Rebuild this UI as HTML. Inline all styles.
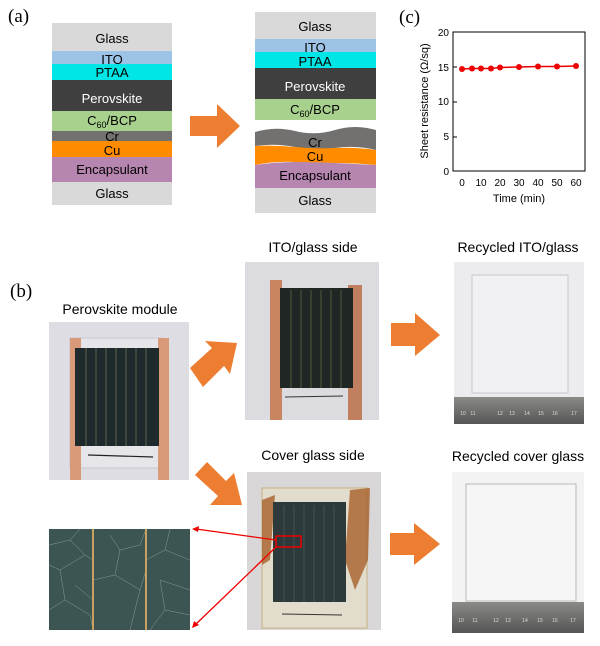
<!DOCTYPE html>
<html><head><style>
body{margin:0;width:600px;height:641px;background:#fff;font-family:"Liberation Sans",sans-serif;overflow:hidden}
</style></head><body>
<svg width="600" height="641" viewBox="0 0 600 641" xmlns="http://www.w3.org/2000/svg" font-family="Liberation Sans, sans-serif">
<defs>
<linearGradient id="rul" x1="0" y1="0" x2="0" y2="1"><stop offset="0" stop-color="#8a8a88"/><stop offset="1" stop-color="#555"/></linearGradient>
</defs>
<text x="8" y="22" font-family="Liberation Serif, serif" font-size="19">(a)</text>
<!-- left stack -->
<g font-size="13" text-anchor="middle">
<rect x="52" y="23" width="120" height="28" fill="#d9d9d9"/><text x="112" y="43">Glass</text>
<rect x="52" y="51" width="120" height="13" fill="#9dc3e6"/><text x="112" y="64">ITO</text>
<rect x="52" y="64" width="120" height="16" fill="#00e5e5"/><text x="112" y="77">PTAA</text>
<rect x="52" y="80" width="120" height="31" fill="#3f3f3f"/><text x="112" y="103" fill="#fff">Perovskite</text>
<rect x="52" y="111" width="120" height="20" fill="#a9d18e"/><text x="112" y="125">C<tspan font-size="9" dy="3">60</tspan><tspan dy="-3">/BCP</tspan></text>
<rect x="52" y="131" width="120" height="10" fill="#737070"/><text x="112" y="141">Cr</text>
<rect x="52" y="141" width="120" height="16" fill="#ff8c00"/><text x="112" y="155">Cu</text>
<rect x="52" y="157" width="120" height="25" fill="#b686b0"/><text x="112" y="174">Encapsulant</text>
<rect x="52" y="182" width="120" height="23" fill="#d9d9d9"/><text x="112" y="198">Glass</text>
</g>
<polygon points="190,116 217,116 217,104 240,126 217,148 217,136 190,136" fill="#ed7d31"/>
<!-- right stack -->
<g font-size="13" text-anchor="middle">
<rect x="255" y="12" width="121" height="27" fill="#d9d9d9"/><text x="315" y="31">Glass</text>
<rect x="255" y="39" width="121" height="13" fill="#9dc3e6"/><text x="315" y="52">ITO</text>
<rect x="255" y="52" width="121" height="16" fill="#00e5e5"/><text x="315" y="66">PTAA</text>
<rect x="255" y="68" width="121" height="31" fill="#3f3f3f"/><text x="315" y="91" fill="#fff">Perovskite</text>
<rect x="255" y="99" width="121" height="21" fill="#a9d18e"/><text x="315" y="114">C<tspan font-size="9" dy="3">60</tspan><tspan dy="-3">/BCP</tspan></text>
<path d="M255,132 Q275,126 295,131 T335,130 T376,130 L376,150 Q355,145 335,148 T295,147 T255,146 Z" fill="#737070"/>
<path d="M255,146 Q275,145 295,147 T335,148 T376,150 L376,165 Q355,163 335,163 T295,162 T255,165 Z" fill="#ff8c00"/>
<path d="M255,165 Q275,162 295,162 T335,163 T376,165 L376,188 L255,188 Z" fill="#b686b0"/>
<text x="315" y="147">Cr</text><text x="315" y="161">Cu</text><text x="315" y="180">Encapsulant</text>
<rect x="255" y="188" width="121" height="25" fill="#d9d9d9"/><text x="315" y="205">Glass</text>
</g>
<!-- (c) plot -->
<text x="399" y="23" font-family="Liberation Serif, serif" font-size="19">(c)</text>
<rect x="453" y="32" width="132" height="139" fill="none" stroke="#000" stroke-width="1"/>
<g font-size="10" text-anchor="end">
<text x="449" y="36">20</text><text x="449" y="71">15</text><text x="449" y="105">10</text><text x="449" y="140">5</text><text x="449" y="175">0</text>
</g>
<g stroke="#000"><line x1="453" y1="67" x2="457" y2="67"/><line x1="453" y1="102" x2="457" y2="102"/><line x1="453" y1="137" x2="457" y2="137"/></g>
<g font-size="10" text-anchor="middle">
<text x="462" y="186">0</text><text x="481" y="186">10</text><text x="500" y="186">20</text><text x="519" y="186">30</text><text x="538" y="186">40</text><text x="557" y="186">50</text><text x="576" y="186">60</text>
</g>
<text x="519" y="202" font-size="11" text-anchor="middle">Time (min)</text>
<text transform="translate(428,101) rotate(-90)" font-size="11" text-anchor="middle">Sheet resistance (Ω/sq)</text>
<polyline points="462,69 472,68.5 481,68.5 491,68.5 500,67.5 519,67 538,66.5 557,66.5 576,66" fill="none" stroke="#e00" stroke-width="1.5"/>
<g fill="#e00"><circle cx="462" cy="69" r="3"/><circle cx="472" cy="68.5" r="3"/><circle cx="481" cy="68.5" r="3"/><circle cx="491" cy="68.5" r="3"/><circle cx="500" cy="67.5" r="3"/><circle cx="519" cy="67" r="3"/><circle cx="538" cy="66.5" r="3"/><circle cx="557" cy="66.5" r="3"/><circle cx="576" cy="66" r="3"/></g>
<!-- (b) -->
<text x="10" y="297" font-family="Liberation Serif, serif" font-size="19">(b)</text>
<g font-size="14" text-anchor="middle">
<text x="120" y="314">Perovskite module</text>
<text x="313" y="252">ITO/glass side</text>
<text x="313" y="460">Cover glass side</text>
<text x="518" y="252">Recycled ITO/glass</text>
<text x="518" y="461">Recycled cover glass</text>
</g>
<!-- module photo -->
<rect x="49" y="322" width="140" height="158" fill="#dedde3"/>
<rect x="70" y="338" width="92" height="130" fill="#e6e6ea" stroke="#c8c8cc"/>
<rect x="70" y="338" width="11" height="142" fill="#d89a78"/>
<rect x="158" y="338" width="11" height="142" fill="#d89a78"/>
<rect x="75" y="348" width="84" height="98" fill="#1e2a2c"/>
<g stroke="#8a8660" stroke-width="0.6"><line x1="86" y1="348" x2="86" y2="446"/><line x1="96" y1="348" x2="96" y2="446"/><line x1="106" y1="348" x2="106" y2="446"/><line x1="116" y1="348" x2="116" y2="446"/><line x1="126" y1="348" x2="126" y2="446"/><line x1="136" y1="348" x2="136" y2="446"/><line x1="146" y1="348" x2="146" y2="446"/></g>
<line x1="88" y1="455" x2="153" y2="457" stroke="#222" stroke-width="1.2"/>
<!-- ITO side photo -->
<rect x="245" y="262" width="134" height="158" fill="#dcdce0"/>
<rect x="270" y="280" width="12" height="140" fill="#c88560"/>
<rect x="348" y="285" width="14" height="135" fill="#c08060"/>
<rect x="280" y="288" width="73" height="100" fill="#1f2623"/>
<g stroke="#7a7a50" stroke-width="0.6"><line x1="291" y1="290" x2="291" y2="388"/><line x1="301" y1="290" x2="301" y2="388"/><line x1="311" y1="290" x2="311" y2="388"/><line x1="321" y1="290" x2="321" y2="388"/><line x1="331" y1="290" x2="331" y2="388"/><line x1="341" y1="290" x2="341" y2="388"/></g>
<line x1="285" y1="397" x2="343" y2="396" stroke="#333"/>
<polygon points="190,368 212,348 205,341 237,343 230,374 224,366 203,387" fill="#ed7d31"/>
<!-- cover glass photo -->
<rect x="247" y="472" width="134" height="158" fill="#d8d6d6"/>
<rect x="262" y="488" width="105" height="140" fill="#e2dccc" stroke="#c8b080"/>
<path d="M262,500 L275,495 L270,560 L262,565 Z M350,490 L370,488 L368,560 L355,590 L345,560 Z" fill="#a8602a" opacity="0.8"/>
<rect x="273" y="502" width="73" height="100" fill="#2c3a3b"/>
<g stroke="#55655e" stroke-width="0.6"><line x1="284" y1="505" x2="284" y2="602"/><line x1="294" y1="505" x2="294" y2="602"/><line x1="304" y1="505" x2="304" y2="602"/><line x1="314" y1="505" x2="314" y2="602"/><line x1="324" y1="505" x2="324" y2="602"/><line x1="334" y1="505" x2="334" y2="602"/></g>
<line x1="282" y1="614" x2="342" y2="615" stroke="#333"/>
<polygon points="195,475 207,462 226,481 234,473 242,505 210,505 218,496" fill="#ed7d31"/>
<!-- zoomed photo -->
<rect x="49" y="529" width="141" height="101" fill="#3c5552"/>
<g stroke="#9aaba6" stroke-width="0.5" fill="none" opacity="0.8">
<path d="M49,545 L70,540 L85,555 L60,570 L49,565 M70,540 L80,529 M85,555 L93,560 M60,570 L65,600 L49,610 M65,600 L90,615 L93,630 M110,535 L120,550 L140,545 L146,529 M120,550 L115,575 L93,580 M115,575 L140,590 L146,570 M140,590 L130,630 M146,560 L165,550 L190,560 M165,550 L170,529 M160,580 L190,590 M160,580 L165,610 L190,615 M165,610 L150,630 M93,600 L75,585"/>
</g>
<rect x="92" y="529" width="2" height="101" fill="#c8a060"/>
<rect x="145" y="529" width="2" height="101" fill="#c8a060"/>
<!-- red box & lines -->
<rect x="276" y="536" width="25" height="11" fill="none" stroke="#e00" stroke-width="1.5"/>
<g stroke="#e00" stroke-width="1.3"><line x1="276" y1="540" x2="196" y2="529"/><line x1="276" y1="547" x2="195" y2="625"/></g>
<polygon points="192,529 199,526 198,532" fill="#e00"/>
<polygon points="192,628 194,621 199,625" fill="#e00"/>
<!-- recycled ITO -->
<rect x="454" y="262" width="130" height="140" fill="#ececee"/>
<rect x="472" y="275" width="96" height="118" fill="#f1f1f3" stroke="#c8c8cc"/>
<rect x="454" y="397" width="130" height="27" fill="url(#rul)"/>
<g font-size="5" fill="#ddd" text-anchor="middle"><text x="463" y="415">10</text><text x="473" y="415">11</text><text x="500" y="415">12</text><text x="512" y="415">13</text><text x="527" y="415">14</text><text x="541" y="415">15</text><text x="555" y="415">16</text><text x="574" y="415">17</text></g>
<polygon points="391,323 415,323 415,313 440,335 415,356 415,346 391,346" fill="#ed7d31"/>
<!-- recycled cover -->
<rect x="452" y="472" width="132" height="135" fill="#f3f3f3"/>
<rect x="466" y="484" width="110" height="117" fill="#f6f6f6" stroke="#b8b8b8"/>
<rect x="452" y="602" width="132" height="31" fill="url(#rul)"/>
<g font-size="5" fill="#ddd" text-anchor="middle"><text x="461" y="622">10</text><text x="475" y="622">11</text><text x="496" y="622">12</text><text x="508" y="622">13</text><text x="525" y="622">14</text><text x="540" y="622">15</text><text x="555" y="622">16</text><text x="573" y="622">17</text></g>
<polygon points="390,533 414,533 414,523 440,544 414,565 414,555 390,555" fill="#ed7d31"/>
</svg>
</body></html>
